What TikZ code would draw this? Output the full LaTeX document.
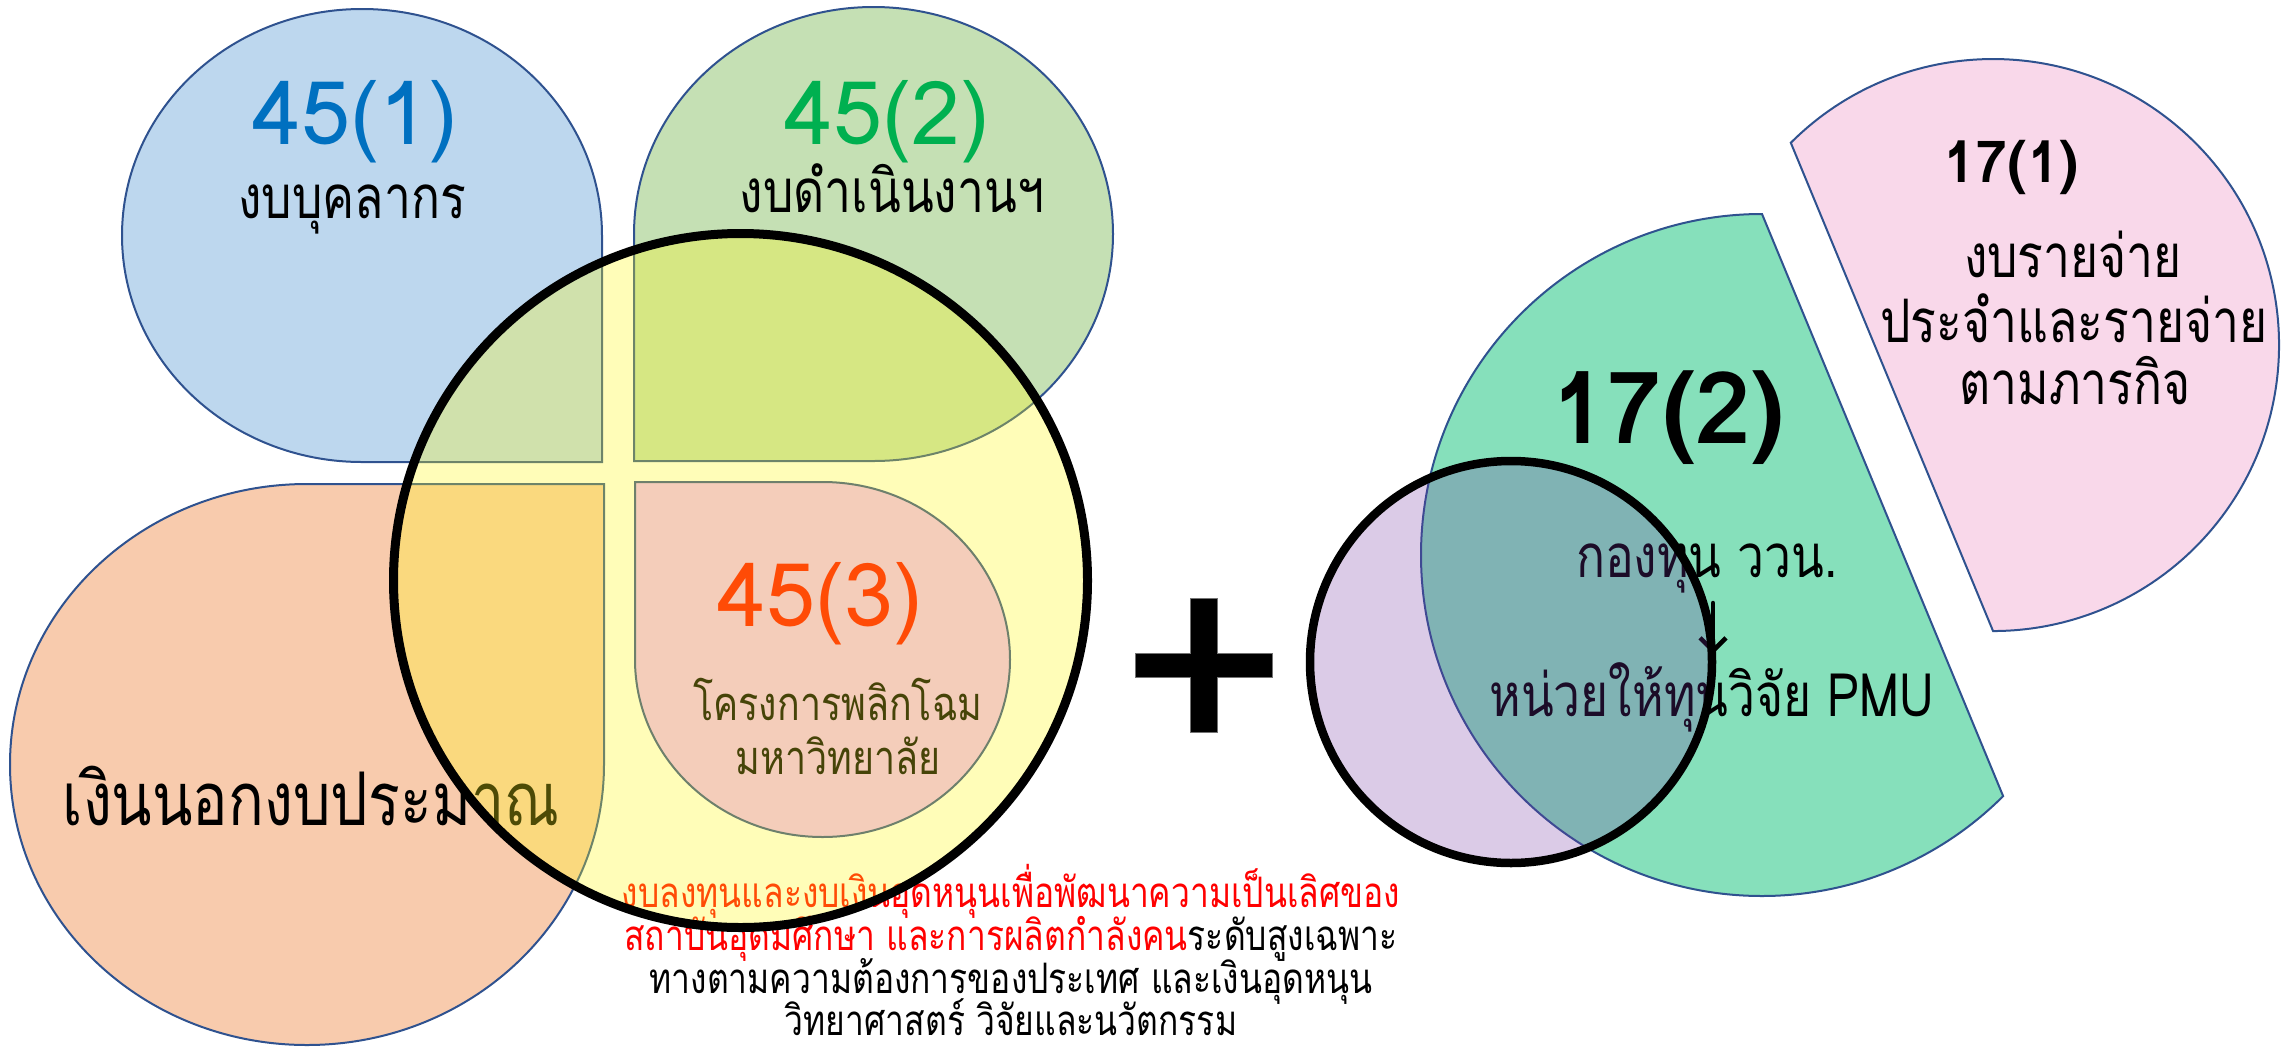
\documentclass[tikz,border=0pt]{standalone}
\usepackage{fontspec}
\setmainfont{Loma}[Script=Thai]
\newfontfamily\thn{Loma}[Script=Thai,FakeStretch=0.8]
\usetikzlibrary{arrows.meta}
\definecolor{cBlue}{RGB}{189,215,238}
\definecolor{cGreen}{RGB}{197,224,180}
\definecolor{cOrange}{RGB}{248,203,173}
\definecolor{cSalmon}{RGB}{244,205,186}
\definecolor{cYel}{RGB}{255,250,20}
\definecolor{cEdge}{RGB}{47,82,143}
\definecolor{cEdgeY}{RGB}{110,128,108}
\definecolor{cMint}{RGB}{134,224,187}
\definecolor{cPink}{RGB}{249,216,234}
\definecolor{cPurple}{RGB}{112,48,160}
\definecolor{tBlue}{RGB}{0,112,192}
\definecolor{tGreen}{RGB}{0,176,80}
\definecolor{tRed}{RGB}{255,75,6}
\definecolor{tOlive}{RGB}{70,68,8}
\begin{document}
\begin{tikzpicture}[x=1pt,y=-1pt,
  edge/.style={draw=cEdge,line width=2pt},
  txt/.style={inner sep=0pt,anchor=base},
  big/.style={txt,font=\fontsize{88}{96}\selectfont},
  mid/.style={txt,font=\thn\fontsize{60}{66}\selectfont},
  small/.style={txt,font=\thn\fontsize{42}{46}\selectfont}]
\useasboundingbox (0,0) rectangle (2281,1047);
% ---------- left: quadrant shapes ----------
\path[fill=cBlue,edge] (602,462) -- (602,235.5)
  arc[start angle=0,end angle=-270,x radius=240,y radius=226.5] -- cycle;
\path[fill=cGreen,edge] (634,461) -- (634,234)
  arc[start angle=180,end angle=450,x radius=239.5,y radius=227] -- cycle;
\path[fill=cOrange,edge] (604,484) -- (307,484)
  arc[start angle=270,end angle=0,x radius=297,y radius=280.5] -- cycle;
\node[big,text=tBlue] (n451) at (355,144) {45(1)};
\node[mid] (n451t) at (352,218) {งบบุคลากร};
\node[big,text=tGreen] (n452) at (887,144) {45(2)};
\node[mid] (n452t) at (892,212) {งบดำเนินงานฯ};
\node[txt,font=\thn\fontsize{74}{80}\selectfont] (nout) at (311,825) {เงินนอกงบประมาณ};
% bottom text
\node[small,text=red] (b1) at (1011,907) {งบลงทุนและงบเงินอุดหนุนเพื่อพัฒนาความเป็นเลิศของ};
\node[small] (b2) at (1011,950) {\textcolor{red}{สถาบันอุดมศึกษา และการผลิตกำลังคน}ระดับสูงเฉพาะ};
\node[small] (b3) at (1011,993) {ทางตามความต้องการของประเทศ และเงินอุดหนุน};
\node[small] (b4) at (1011,1035) {วิทยาศาสตร์ วิจัยและนวัตกรรม};
% yellow circle layer
\path[fill=cYel,fill opacity=0.3] (740.5,580.5) circle[radius=347];
\path[fill=cSalmon,draw=cEdgeY,line width=2pt] (635,482) -- (822.5,482)
  arc[start angle=270,end angle=540,x radius=187.5,y radius=177.5] -- cycle;
\node[big,text=tRed] (n453) at (820,626) {45(3)};
\node[txt,font=\thn\fontsize{47}{52}\selectfont,text=tOlive] (n453a) at (838,720) {โครงการพลิกโฉม};
\node[txt,font=\thn\fontsize{47}{52}\selectfont,text=tOlive] (n453b) at (838,774) {มหาวิทยาลัย};
\draw[line width=9pt] (740.5,580.5) circle[radius=347];
% ---------- plus ----------
\path[fill=black,draw=black!55,line width=1pt]
  (1135,653) -- (1190,653) -- (1190,598) -- (1217,598) -- (1217,653) -- (1272,653)
  -- (1272,677) -- (1217,677) -- (1217,732) -- (1190,732) -- (1190,677) -- (1135,677) -- cycle;
% ---------- right: pie chords ----------
\path[fill=cPink,edge] (1790.8,142.8) arc[start angle=225,end angle=450,radius=286] -- cycle;
\path[fill=cMint,edge] (1762,214) arc[start angle=270,end angle=45,radius=341] -- cycle;
\node[txt,font=\bfseries\fontsize{58}{64}\selectfont] (n171) at (2011,182) {17(1)};
\node[mid] (p1) at (2073,277) {งบรายจ่าย};
\node[mid] (p2) at (2074,342) {ประจำและรายจ่าย};
\node[mid] (p3) at (2075,404) {ตามภารกิจ};
\node[txt,font=\bfseries\fontsize{100}{110}\selectfont] (n172) at (1668,443) {17(2)};
\node[mid] (k1) at (1707,577) {กองทุน ววน.};
\node[mid] (k2) at (1712,716) {หน่วยให้ทุนวิจัย PMU};
\coordinate (arS) at (1713,603);
\coordinate (arE) at (1713,654);
\draw[line width=4.5pt,line cap=round,-{Straight Barb[length=13pt,width=26pt,line width=4.5pt]}] (arS) -- (arE);
% purple circle layer
\path[fill=cPurple,fill opacity=0.25] (1511,662) circle[radius=201];
\draw[line width=8.5pt] (1511,662) circle[radius=201];
\end{tikzpicture}
\end{document}
